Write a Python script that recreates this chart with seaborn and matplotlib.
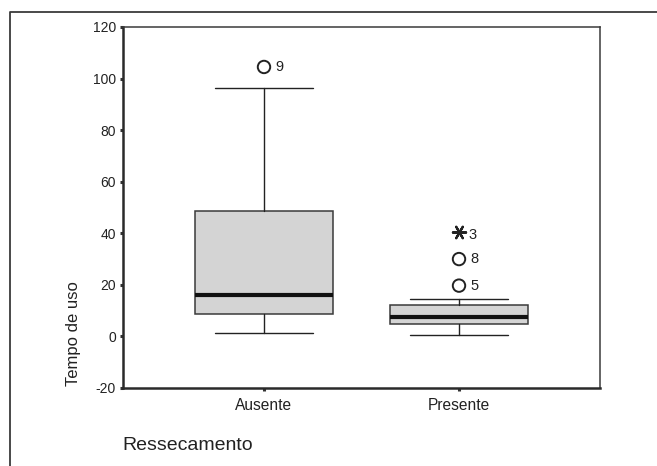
import matplotlib
matplotlib.use("Agg")
import matplotlib.pyplot as plt
import seaborn as sns
import pandas as pd
from matplotlib.lines import Line2D

# Box summary for "Tempo de uso" by "Ressecamento"
categories = ["Ausente", "Presente"]
whisker_low = [1.4, 0.6]
q1 = [8.8, 5.0]
median = [16.2, 7.6]
q3 = [48.6, 12.0]
whisker_high = [96.4, 14.4]

# Individual cases drawn outside the whiskers
outlier_group = ["Ausente", "Presente", "Presente", "Presente"]
outlier_value = [104.5, 19.7, 30.0, 40.5]
outlier_case = ["9", "5", "8", "3"]
outlier_kind = ["outlier", "outlier", "outlier", "extreme"]

y_ticks = [-20, 0, 20, 40, 60, 80, 100, 120]

sns.set_style("white")
plt.rcParams["font.family"] = ["Liberation Sans", "DejaVu Sans"]

W, H = 657, 466
fig = plt.figure(figsize=(W / 100, H / 100), dpi=100)
ax = fig.add_axes([123 / W, 1 - 388 / H, 477 / W, 361 / H])

stats = [
    dict(label=c, whislo=lo, q1=a, med=m, q3=b, whishi=hi, fliers=[])
    for c, lo, a, m, b, hi in zip(categories, whisker_low, q1, median, q3, whisker_high)
]
positions = list(range(len(categories)))
ax.bxp(
    stats,
    positions=positions,
    widths=0.71,
    capwidths=0.5,
    patch_artist=True,
    showfliers=False,
    boxprops=dict(facecolor="#d4d4d4", edgecolor="#3a3a3a", linewidth=1.1),
    medianprops=dict(color="#111111", linewidth=3.0, solid_capstyle="butt"),
    whiskerprops=dict(color="#222222", linewidth=1.0),
    capprops=dict(color="#222222", linewidth=1.0),
)

out = pd.DataFrame({
    "x": [categories.index(g) for g in outlier_group],
    "y": outlier_value,
    "case": outlier_case,
    "kind": outlier_kind,
})
circ = out[out["kind"] == "outlier"]
ext = out[out["kind"] == "extreme"]
sns.scatterplot(data=circ, x="x", y="y", ax=ax, marker="o", s=80,
                facecolor="none", edgecolor="#222222", linewidth=1.4, zorder=5)
sns.scatterplot(data=ext, x="x", y="y", ax=ax, marker=(6, 2, 90), s=90,
                color="#222222", edgecolor="#222222", linewidth=1.6, zorder=5)

for _, r in out.iterrows():
    dx = 8.5 if r["kind"] == "outlier" else 6.5
    dy = 0 if r["kind"] == "outlier" else -2
    ax.annotate(r["case"], (r["x"], r["y"]), xytext=(dx, dy),
                textcoords="offset points", ha="left", va="center",
                fontsize=10.5, color="#222222")

ax.set_xlim(-0.723, 1.723)
ax.set_ylim(-20, 120)
ax.set_yticks(y_ticks)
ax.set_yticklabels([str(t) for t in y_ticks], fontsize=10, color="#222222")
ax.set_xticks(positions)
ax.set_xticklabels(categories, fontsize=11.2, color="#222222")
ax.tick_params(axis="both", direction="out", length=2.2, width=2.2,
               color="#333333", left=True, bottom=True)
ax.tick_params(axis="y", pad=3)
ax.tick_params(axis="x", pad=5)

for side in ["left", "bottom"]:
    ax.spines[side].set_color("#2a2a2a")
    ax.spines[side].set_linewidth(1.8)
for side in ["top", "right"]:
    ax.spines[side].set_visible(True)
    ax.spines[side].set_color("#3a3a3a")
    ax.spines[side].set_linewidth(1.1)

ax.set_xlabel("")
ax.set_ylabel("Tempo de uso", fontsize=12, color="#222222")
ax.yaxis.set_label_coords(-0.088, 0.15)

fig.text(122 / W, 1 - 446 / H, "Ressecamento", fontsize=14, color="#222222",
         ha="left", va="center")

# Outer frame around the chart area
fig.add_artist(Line2D([10 / W, 10 / W, 1.0], [0.0, 1 - 12 / H, 1 - 12 / H],
                      transform=fig.transFigure, color="#3a3a3a", linewidth=1.3))

fig.savefig("out.png", dpi=100)
